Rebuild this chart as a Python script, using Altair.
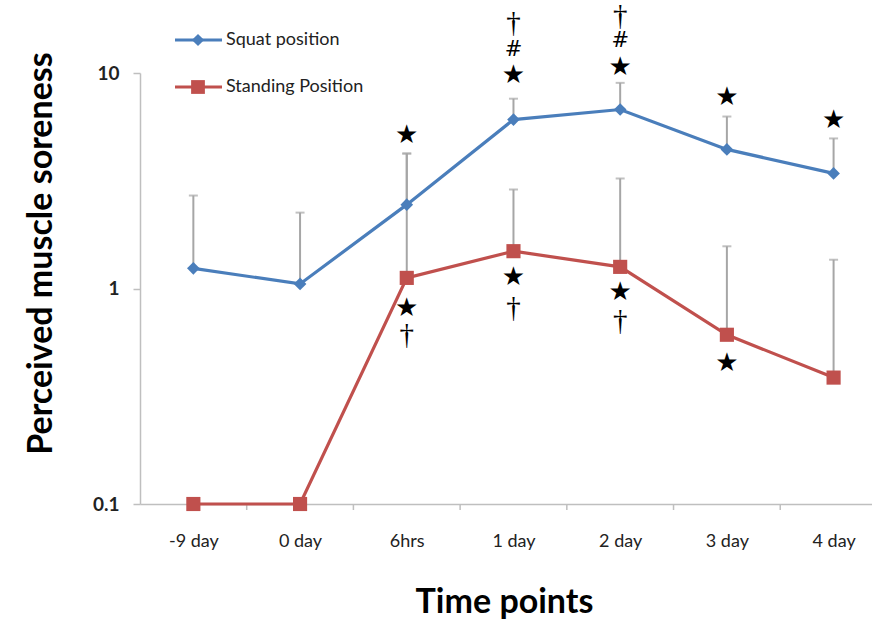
import json
import altair as alt
import pandas as pd

# ---------------- data ----------------
categories = ["-9 day", "0 day", "6hrs", "1 day", "2 day", "3 day", "4 day"]
series_names = ["Squat position", "Standing Position"]

squat = [1.24, 1.05, 2.45, 6.08, 6.77, 4.42, 3.42]
squat_err_top = [2.70, 2.25, 4.23, 7.6, 9.0, 6.28, 4.97]

standing = [0.1, 0.1, 1.12, 1.49, 1.26, 0.61, 0.386]
standing_err_top = [None, None, 4.23, 2.88, 3.24, 1.57, 1.36]

ann_cat = ["6hrs", "6hrs", "6hrs",
           "1 day", "1 day", "1 day", "1 day", "1 day",
           "2 day", "2 day", "2 day", "2 day", "2 day",
           "3 day", "3 day", "4 day"]
ann_sym = ["★", "★", "†",
           "★", "#", "†", "★", "†",
           "★", "#", "†", "★", "†",
           "★", "★", "★"]
ann_y = [5.18, 0.816, 0.61,
         9.84, 12.85, 17.0, 1.125, 0.81,
         10.7, 14.1, 18.3, 0.968, 0.71,
         7.7, 0.449, 6.02]

y_ticks = [0.1, 1, 10]

# ---------------- tables ----------------
idx = list(range(len(categories)))
sq = pd.DataFrame({"i": idx, "v": squat, "top": squat_err_top})
st = pd.DataFrame({"i": idx, "v": standing, "top": standing_err_top})
st_err = st.dropna()
ann = pd.DataFrame({"i": [categories.index(c) for c in ann_cat],
                    "sym": ann_sym, "v": ann_y})
bounds = pd.DataFrame({"i": [k + 0.5 for k in idx[:-1]]})

BLUE = "#4a7ebb"
RED = "#c0504d"
GRAY = "#a6a6a6"
AXIS_GRAY = "#bfbfbf"
FONT = "Lato"

label_expr = "%s[datum.value]" % json.dumps(categories)

x_axis = alt.Axis(
    values=idx, labelExpr=label_expr, ticks=False, grid=False,
    domainColor=AXIS_GRAY, domainWidth=1.5,
    labelFont=FONT, labelFontSize=18, labelColor="#222",
    labelBaseline="alphabetic", labelPadding=42,
    title="Time points", titleFont=FONT, titleFontSize=34,
    titleFontWeight="bold", titleColor="#000",
    titleX=364, titleY=108, titleAlign="center", titleBaseline="alphabetic",
)
y_axis = alt.Axis(
    values=y_ticks, format="~g", grid=False,
    domainColor=AXIS_GRAY, domainWidth=1.5,
    tickColor=AXIS_GRAY, tickSize=7, tickWidth=1.5,
    labelFont=FONT, labelFontSize=19, labelFontWeight="bold", labelColor="#222",
    labelPadding=14,
    title="Perceived muscle soreness", titleFont=FONT, titleFontSize=34,
    titleFontWeight="bold", titleColor="#000",
    titleX=-99, titleY=180, titleAngle=-90, titleAlign="center",
    titleBaseline="middle",
)
x_scale = alt.Scale(domain=[-0.5, 6.36], nice=False, zero=False)
y_scale = alt.Scale(type="log", domain=[0.1, 10], nice=False)


def X(field="i"):
    return alt.X(f"{field}:Q", scale=x_scale, axis=x_axis)


def Y(field="v"):
    return alt.Y(f"{field}:Q", scale=y_scale, axis=y_axis)


layers = []

# error bars (upward only)
for df in (sq, st_err):
    layers.append(alt.Chart(df).mark_rule(color=GRAY, strokeWidth=2, clip=False)
                  .encode(x=X(), y=Y("v"), y2="top:Q"))
    layers.append(alt.Chart(df).mark_tick(color=GRAY, orient="horizontal", size=9,
                                          thickness=2, clip=False)
                  .encode(x=X(), y=Y("top")))

# category boundary ticks on x axis
layers.append(alt.Chart(bounds).mark_rule(color=AXIS_GRAY, strokeWidth=1.5)
              .encode(x=X(), y=alt.value(431), y2=alt.value(437)))

# series lines and markers
layers.append(alt.Chart(st).mark_line(color=RED, strokeWidth=3.2).encode(x=X(), y=Y()))
layers.append(alt.Chart(sq).mark_line(color=BLUE, strokeWidth=3.2).encode(x=X(), y=Y()))
layers.append(alt.Chart(st).mark_point(shape="square", filled=True, color=RED,
                                       opacity=1, size=200).encode(x=X(), y=Y()))
layers.append(alt.Chart(sq).mark_point(shape="diamond", filled=True, color=BLUE,
                                       opacity=1, size=160).encode(x=X(), y=Y()))

# significance annotations, one layer per symbol style
sym_styles = [("★", "DejaVu Sans", 26), ("#", "DejaVu Sans", 21),
              ("†", "Liberation Serif", 29)]
for sym, fnt, fs in sym_styles:
    layers.append(alt.Chart(ann).transform_filter(alt.datum.sym == sym)
                  .mark_text(font=fnt, fontSize=fs, color="#000",
                             baseline="middle", align="center", clip=False)
                  .encode(x=X(), y=Y(), text="sym:N"))

# legend (manual, Excel-style)
leg_specs = [(series_names[0], BLUE, "diamond", 150, -33),
             (series_names[1], RED, "square", 190, 14)]
for name, col, shp, sz, ly in leg_specs:
    ldf = pd.DataFrame({"name": [name]})
    layers.append(alt.Chart(ldf).mark_rule(color=col, strokeWidth=3)
                  .encode(x=alt.value(35), x2=alt.value(82), y=alt.value(ly)))
    layers.append(alt.Chart(ldf).mark_point(shape=shp, filled=True, color=col,
                                            opacity=1, size=sz)
                  .encode(x=alt.value(58), y=alt.value(ly)))
    layers.append(alt.Chart(ldf).mark_text(align="left", baseline="middle",
                                           font=FONT, fontSize=18, color="#222")
                  .encode(x=alt.value(86), y=alt.value(ly), text="name:N"))

chart = (alt.layer(*layers)
         .properties(width=732, height=431,
                     autosize=alt.AutoSizeParams(type="none"),
                     padding={"left": 140, "top": 73, "right": 0, "bottom": 126},
                     background="white")
         .configure_view(stroke=None))

chart.save("out.html", embed_options={"renderer": "svg", "actions": False})
